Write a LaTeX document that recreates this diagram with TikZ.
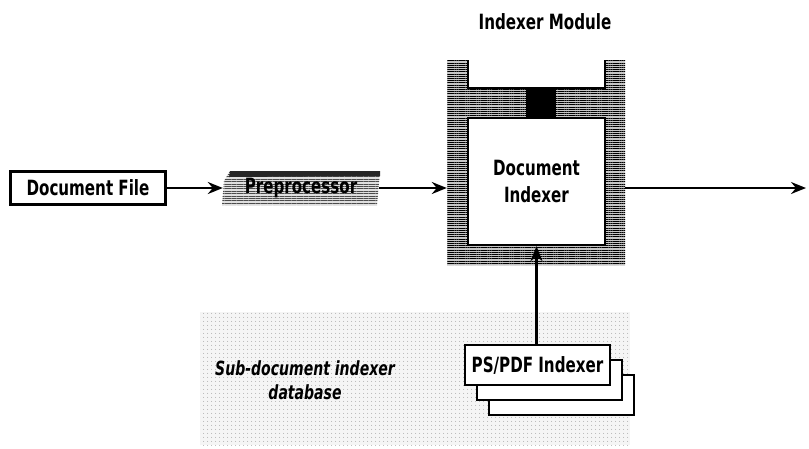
\documentclass[tikz,border=0pt]{standalone}
\usepackage{fontspec}
\setmainfont{DejaVu Sans Condensed}[FakeStretch=0.8]
\usetikzlibrary{arrows.meta,patterns.meta}

\tikzset{
  lbl/.style={font=\fontsize{21}{27}\selectfont\bfseries, inner sep=0pt},
  boxnode/.style={draw, line width=2.4pt, fill=white, lbl},
  flow/.style={line width=2.2pt, -{Stealth[length=15pt,width=12pt,inset=5pt]}},
  hatch/.style={preaction={fill=gray!45},
    pattern={Lines[angle=0,distance=2.2pt,line width=1pt]}, pattern color=black},
  light hatch/.style={preaction={fill=gray!25},
    pattern={Lines[angle=0,distance=2.4pt,line width=0.8pt]}, pattern color=black!70},
  dotted area/.style={preaction={fill=gray!8},
    pattern={Dots[distance=4pt,radius=0.5pt]}, pattern color=gray!85},
}

\begin{document}
\begin{tikzpicture}[x=1pt,y=-1pt]
  \useasboundingbox (0,0) rectangle (809,448);

  % sub-document indexer database area
  \path[dotted area] (200,312) rectangle (630,445);

  % input file
  \node[boxnode, minimum width=155pt, minimum height=33pt] (file) at (88,188) {Document File};

  % preprocessor banner
  \node[lbl, minimum width=156pt, minimum height=34pt] (pre) at (301,188) {};
  \path[light hatch] (230,171) -- (380,171) -- (377,205) -- (222,205) -- (224,181) -- cycle;
  \fill[black!85] (230,171) -- (380,171) -- (380,176) -- (229,177) -- cycle;
  \node[lbl] at (pre) {Preprocessor};

  % indexer module frame
  \node[minimum width=178pt, minimum height=205pt, inner sep=0pt] (mod) at (536,162.5) {};
  \path[hatch] (447,60) -- (468,60) -- (468,88) -- (605,88) -- (605,60) -- (625,60)
     -- (625,265) -- (447,265) -- cycle;
  \draw[line width=2.4pt] (468,60) -- (468,88) -- (605,88) -- (605,60);
  \fill (526,88) rectangle (556,118);
  \node[boxnode, minimum width=137pt, minimum height=127pt, align=center] (idx) at (536.5,181.5)
     {Document\\Indexer};
  \node[lbl] (modlabel) at (545,22) {Indexer Module};

  % sub-document indexers (stacked)
  \node[boxnode, minimum width=145pt, minimum height=40pt] (ps3) at (561.5,395) {};
  \node[boxnode, minimum width=145pt, minimum height=40pt] (ps2) at (549.5,380) {};
  \node[boxnode, minimum width=145pt, minimum height=40pt] (ps1) at (537.5,365) {PS/PDF Indexer};

  \node[lbl, font=\fontsize{19.5}{24}\selectfont\bfseries\itshape, align=center] (db) at (305,380)
     {Sub-document indexer\\database};

  % connectors
  \coordinate (out) at (806,188);
  \draw[flow] (file) -- (pre.west);
  \draw[flow] (pre.east) -- (pre.east -| mod.west);
  \draw[flow] (ps1.north -| idx.south) -- (idx.south);
  \draw[flow] (out -| mod.east) -- (out);
\end{tikzpicture}
\end{document}
